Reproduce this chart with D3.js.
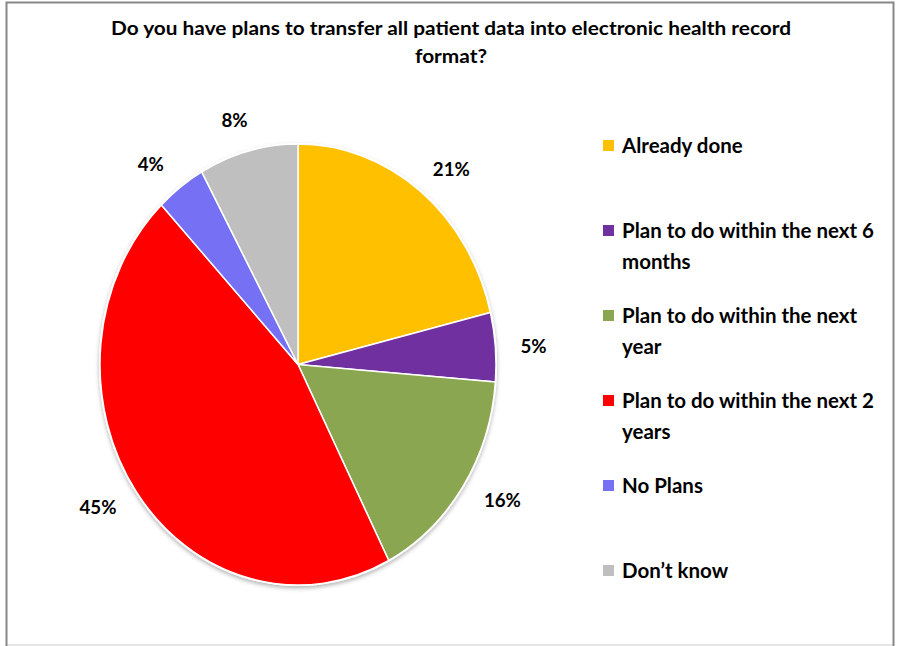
<!DOCTYPE html>
<html><head><meta charset="utf-8">
<script src="https://cdn.jsdelivr.net/npm/d3@7"></script>
<style>html,body{margin:0;padding:0;background:#fff;} svg{display:block}</style>
</head><body>
<script>
// ---- data ----
const titleLines = ["Do you have plans to transfer all patient data into electronic health record", "format?"];
const categories = ["Already done", "Plan to do within the next 6 months", "Plan to do within the next year", "Plan to do within the next 2 years", "No Plans", "Don\u2019t know"];
const values = [21, 5, 16, 45, 4, 8];
const colors = ["#FFC000", "#7030A0", "#8BA650", "#FF0000", "#7670F5", "#BFBFBF"];

// ---- layout ----
const W = 899, H = 646;
const FONT = "Lato, 'Open Sans', 'DejaVu Sans', sans-serif";
const svg = d3.select("body").append("svg").attr("width", W).attr("height", H);

function measure(text, size) {
  const t = svg.append("text").attr("font-family", FONT).attr("font-weight", "bold")
    .attr("font-size", size).text(text);
  const w = t.node().getComputedTextLength();
  t.remove();
  return w;
}
// horizontal compression factor so that a reference string hits a target width at a given size
function squeeze(text, target, size) { return target / measure(text, size); }
function setLen(sel, text, size, k) {
  sel.attr("textLength", measure(text, size) * k).attr("lengthAdjust", "spacingAndGlyphs");
}

// frame
svg.append("rect").attr("x", 0).attr("y", 0).attr("width", W).attr("height", H).attr("fill", "#fff");
svg.append("line").attr("x1", 6).attr("y1", 645).attr("x2", 894).attr("y2", 645).attr("stroke", "#dcdcdc").attr("stroke-width", 1.5);
svg.append("path").attr("d", "M6.5,646 V2.5 H893.5 V646").attr("fill", "none").attr("stroke", "#878787").attr("stroke-width", 2);

// title
const titleSize = 18;
const kTitle = squeeze(titleLines[0], 680, titleSize);
titleLines.forEach((ln, i) => {
  const t = svg.append("text").attr("x", 451).attr("y", 35 + i * 28)
    .attr("text-anchor", "middle").attr("font-family", FONT).attr("font-weight", "bold")
    .attr("font-size", titleSize).attr("fill", "#000").text(ln);
  setLen(t, ln, titleSize, kTitle);
});

// pie
const cx = 298, cy = 364.5, rx = 198, ry = 220.5;
const defs = svg.append("defs");
const f = defs.append("filter").attr("id", "sh").attr("x", "-10%").attr("y", "-10%").attr("width", "120%").attr("height", "120%");
f.append("feDropShadow").attr("dx", 0).attr("dy", 2).attr("stdDeviation", 2).attr("flood-color", "#000").attr("flood-opacity", 0.3);

const pie = d3.pie().sort(null).value(d => d);
const arcs = pie(values);
const arc = d3.arc().innerRadius(0).outerRadius(rx);
const pg = svg.append("g").attr("transform", `translate(${cx},${cy}) scale(1,${ry / rx})`);
pg.append("ellipse").attr("cx", 0).attr("cy", 0).attr("rx", rx + 1).attr("ry", rx + 1)
  .attr("fill", "#fff").attr("filter", "url(#sh)");
pg.selectAll("path").data(arcs).join("path")
  .attr("d", arc).attr("fill", (d, i) => colors[i])
  .attr("stroke", "#fff").attr("stroke-width", 1.5).attr("vector-effect", "non-scaling-stroke");

// data labels
const labelSize = 19;
const kLabel = squeeze("21%", 37, labelSize);
const lg = svg.append("g");
arcs.forEach((a, i) => {
  const th = (a.startAngle + a.endAngle) / 2;
  const s = Math.sin(th), c = Math.cos(th);
  const txt = values[i] + "%";
  const t = lg.append("text").attr("font-family", FONT).attr("font-weight", "bold")
    .attr("font-size", labelSize).attr("text-anchor", "middle").attr("fill", "#000")
    .text(txt);
  setLen(t, txt, labelSize, kLabel);
  const w = measure(txt, labelSize) * kLabel;
  const hh = 8.5;
  const ext = Math.min(Math.abs(s) > 1e-6 ? (w / 2) / Math.abs(s) : 1e9, Math.abs(c) > 1e-6 ? hh / Math.abs(c) : 1e9);
  const rb = Math.sqrt((rx * s) ** 2 + (ry * c) ** 2);
  const dist = rb + 25 + ext;
  t.attr("x", cx + dist * s).attr("y", cy - dist * c).attr("dy", "0.36em");
});

// legend
const legSize = 20.5;
const kLeg = squeeze("Plan to do within the next 6", 252, legSize);
const maxW = 262;
function wrap(text) {
  const words = text.split(" ");
  const lines = [];
  let cur = "";
  words.forEach(wd => {
    const test = cur ? cur + " " + wd : wd;
    if (measure(test, legSize) * kLeg > maxW && cur) { lines.push(cur); cur = wd; }
    else cur = test;
  });
  lines.push(cur);
  return lines;
}
const leg = svg.append("g");
categories.forEach((name, i) => {
  const y0 = 153 + i * 85;
  leg.append("rect").attr("x", 603).attr("y", y0 - 13).attr("width", 11).attr("height", 11).attr("fill", colors[i]);
  const t = leg.append("text").attr("font-family", FONT).attr("font-weight", "bold")
    .attr("font-size", legSize).attr("fill", "#000");
  wrap(name).forEach((ln, j) => {
    const ts = t.append("tspan").attr("x", 622).attr("y", y0 + j * 31).text(ln);
    setLen(ts, ln, legSize, kLeg);
  });
});
</script>
</body></html>
